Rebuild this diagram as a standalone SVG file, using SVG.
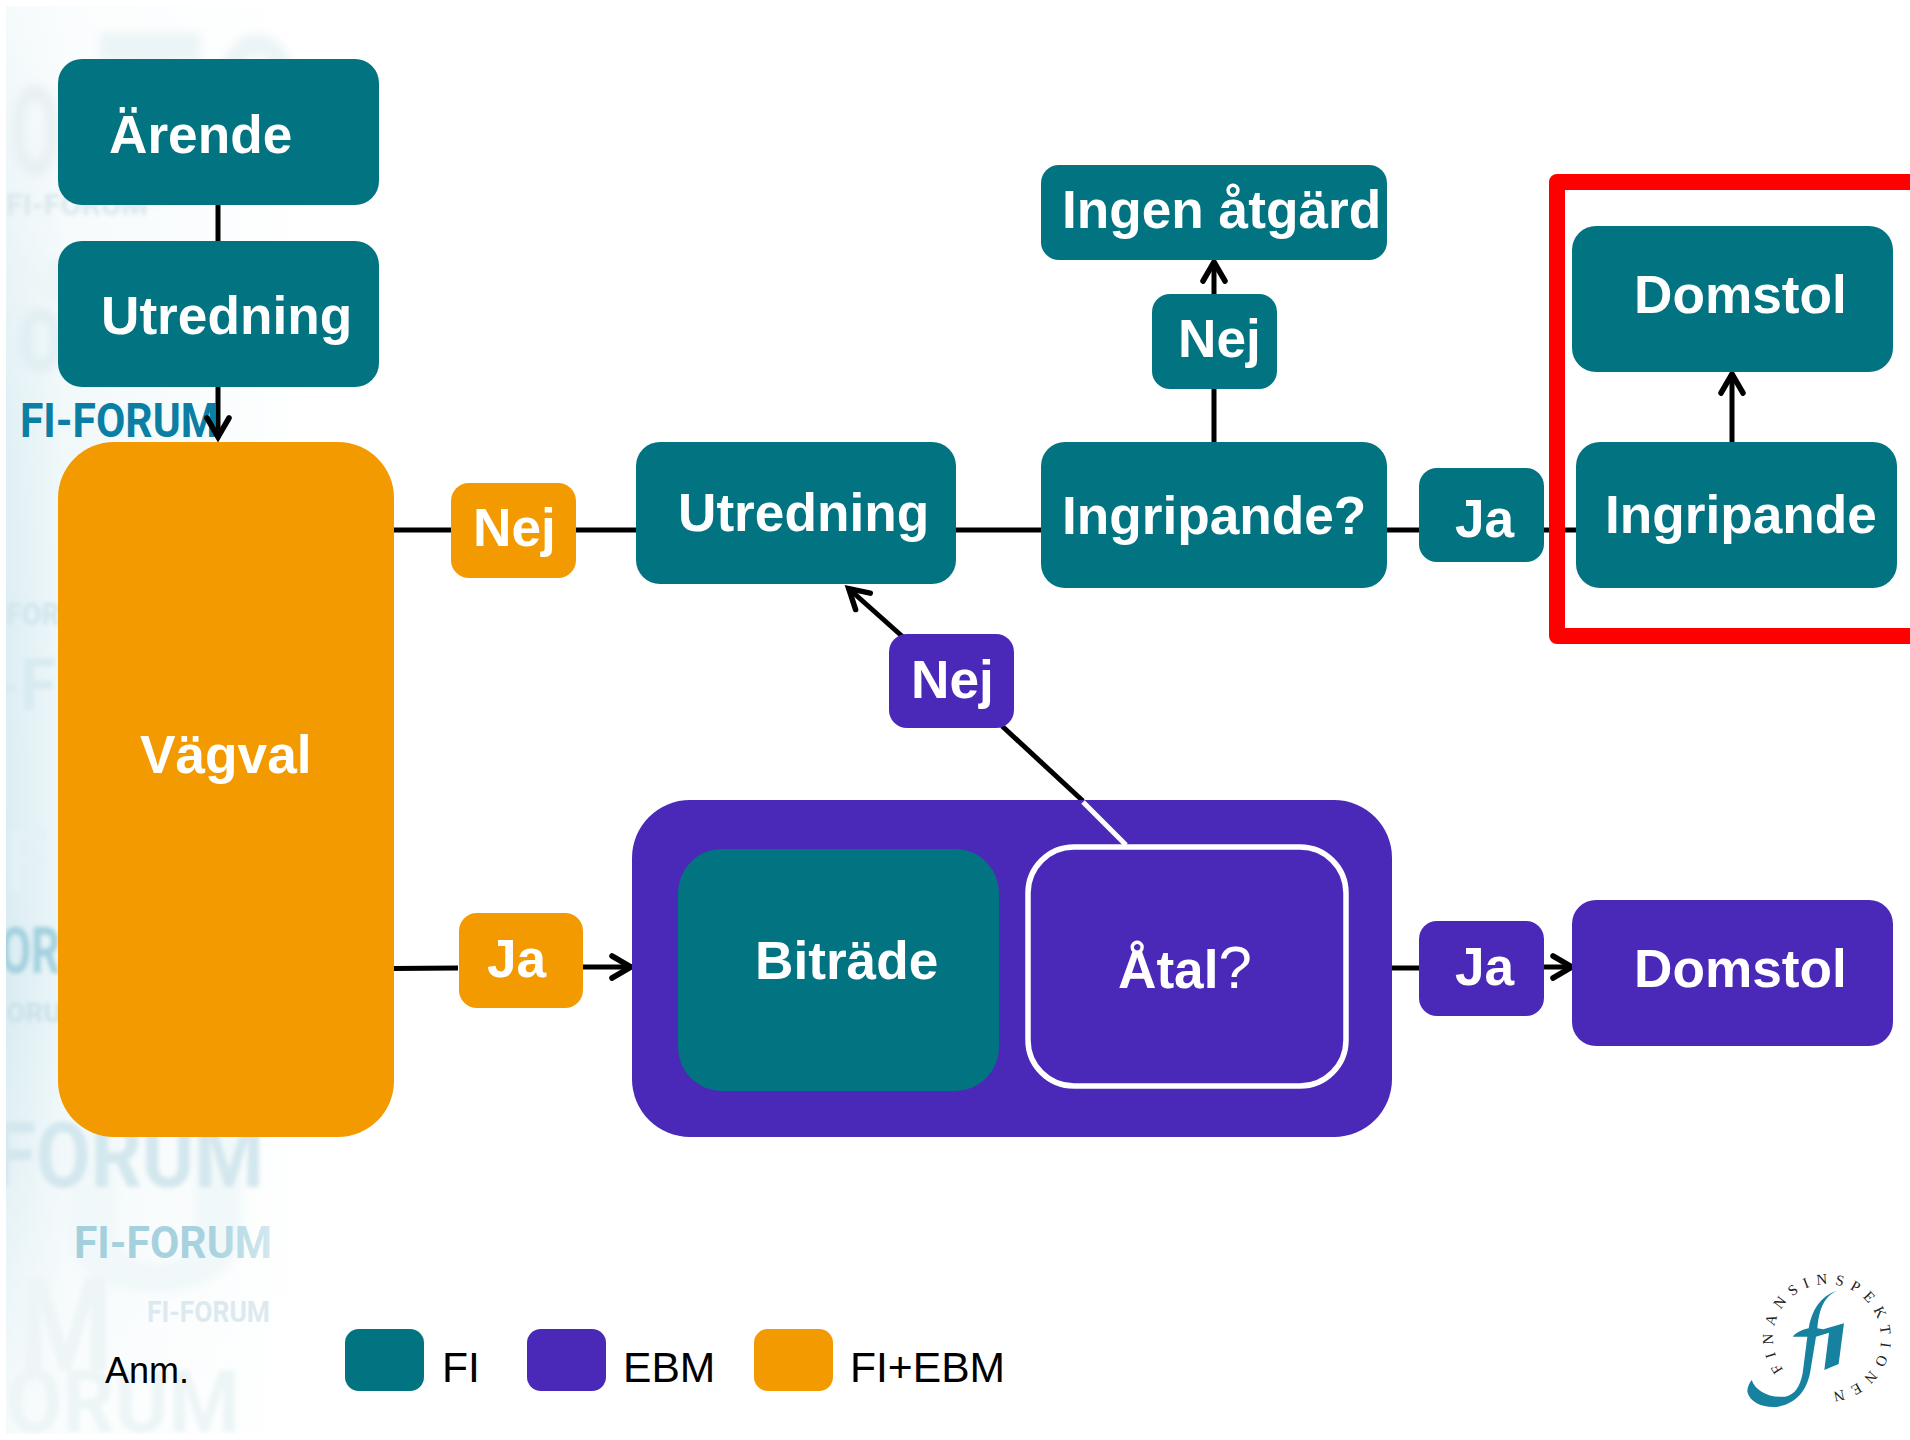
<svg xmlns="http://www.w3.org/2000/svg" width="1910" height="1440" viewBox="0 0 1910 1440">
<style>
.teal{fill:#027381}.purple{fill:#4a29b8}.orange{fill:#f39a00}
.lbl{font-family:"Liberation Sans",Arial,sans-serif;font-weight:700;font-size:53.2px;fill:#fff}
.reg{font-family:"Liberation Sans",Arial,sans-serif;font-size:42.6px;fill:#000}
.wm{font-family:Roboto,"Liberation Sans",sans-serif;font-weight:700}
.c{stroke:#000;stroke-width:5;fill:none}
</style>
<defs>
<marker id="arrow" markerUnits="userSpaceOnUse" markerWidth="34" markerHeight="34" refX="26" refY="15" orient="auto" viewBox="0 0 34 34">
<path d="M6,4 L25,15 L6,26" fill="none" stroke="#000" stroke-width="5.5" stroke-linecap="round" stroke-linejoin="miter"/>
</marker>
<clipPath id="wmclip"><rect x="6" y="6" width="300" height="1428"/></clipPath>
<linearGradient id="bgh" x1="0" x2="1" y1="0" y2="0"><stop offset="0" stop-color="#d9ecf2"/><stop offset="0.2" stop-color="#eef7f9"/><stop offset="1" stop-color="#fff"/></linearGradient>
<linearGradient id="fadev" x1="0" x2="0" y1="0" y2="1"><stop offset="0" stop-color="#fff" stop-opacity=".75"/><stop offset=".3" stop-color="#fff" stop-opacity=".2"/><stop offset=".7" stop-color="#fff" stop-opacity="0"/><stop offset="1" stop-color="#fff" stop-opacity=".75"/></linearGradient>
<linearGradient id="fadeh" x1="0" x2="1" y1="0" y2="0"><stop offset="0" stop-color="#a3cfdd"/><stop offset=".7" stop-color="#a8d2df"/><stop offset="1" stop-color="#d5e9ef"/></linearGradient>
<filter id="b2" x="-20%" y="-20%" width="140%" height="140%"><feGaussianBlur stdDeviation="2"/></filter>
<filter id="b5" x="-20%" y="-20%" width="140%" height="140%"><feGaussianBlur stdDeviation="5"/></filter>
<path id="logoarc" d="M1783.3,1369.7 A54,54 0 1 1 1827,1392"/>
</defs>
<rect width="1910" height="1440" fill="#fff"/>
<g id="background" clip-path="url(#wmclip)">
<rect x="6" y="6" width="300" height="1428" fill="url(#bgh)"/>
<rect x="6" y="6" width="300" height="1428" fill="url(#fadev)"/>
<g filter="url(#b5)" fill="#ebf4f6">
<rect x="100" y="33" width="100" height="28"/><rect x="135" y="33" width="32" height="170"/>
<text class="wm" x="212" y="170" font-size="190" textLength="90" lengthAdjust="spacingAndGlyphs">O</text>
<text class="wm" x="10" y="175" font-size="125" textLength="50" lengthAdjust="spacingAndGlyphs" fill="#e6eff2">O</text>
<text class="wm" x="6" y="300" font-size="60" textLength="60" lengthAdjust="spacingAndGlyphs">N</text>
<text class="wm" x="18" y="370" font-size="85" textLength="45" lengthAdjust="spacingAndGlyphs" fill="#deecf1">O</text>
<text class="wm" x="50" y="1290" font-size="260" textLength="210" lengthAdjust="spacingAndGlyphs" fill="#f1f8f9">U</text>
</g>
<g filter="url(#b2)">
<text class="wm" x="6" y="215" font-size="30" textLength="142" lengthAdjust="spacingAndGlyphs" fill="#d8e7ec">FI-FORUM</text>
<text class="wm" x="6" y="625" font-size="32" textLength="54" lengthAdjust="spacingAndGlyphs" fill="#cfe5ec">FOR</text>
<text class="wm" x="-6" y="710" font-size="72" textLength="62" lengthAdjust="spacingAndGlyphs" fill="#d8ebf0">-F</text>
<text class="wm" x="6" y="892" font-size="88" textLength="42" lengthAdjust="spacingAndGlyphs" fill="#e4f1f5">F</text>
<text class="wm" x="6" y="1022" font-size="26" textLength="56" lengthAdjust="spacingAndGlyphs" fill="#c8e0e8">ORU</text>
<text class="wm" x="-8" y="1187" font-size="90" textLength="272" lengthAdjust="spacingAndGlyphs" fill="#d3e7ee">FORUM</text>
<text class="wm" x="18" y="1370" font-size="130" textLength="95" lengthAdjust="spacingAndGlyphs" fill="#edf5f7">M</text>
<text class="wm" x="6" y="1432" font-size="88" textLength="234" lengthAdjust="spacingAndGlyphs" fill="#edf5f7">ORUM</text>
</g>
<text class="wm" x="0" y="973" font-size="64" textLength="60" lengthAdjust="spacingAndGlyphs" fill="#a3d0de" filter="url(#b2)">OR</text>
<text class="wm" x="20" y="437" font-size="49" textLength="198" lengthAdjust="spacingAndGlyphs" fill="#0a7fa3">FI-FORUM</text>
<text class="wm" x="74" y="1258" font-size="45" textLength="198" lengthAdjust="spacingAndGlyphs" fill="url(#fadeh)">FI-FORUM</text>
<text class="wm" x="147" y="1322" font-size="29" textLength="123" lengthAdjust="spacingAndGlyphs" fill="#dceaf0">FI-FORUM</text>
</g>
<g id="connectors">
<path class="c" d="M218,205V241"/>
<path class="c" d="M218,386V438" marker-end="url(#arrow)"/>
<path class="c" d="M394,530H636"/>
<path class="c" d="M956,530H1041"/>
<path class="c" d="M1387,530H1576"/>
<path class="c" d="M1214,442V261" marker-end="url(#arrow)"/>
<path class="c" d="M1732,442V373" marker-end="url(#arrow)"/>
<path class="c" d="M394,968.5L458,968"/>
<path class="c" d="M583,967H632" marker-end="url(#arrow)"/>
<path class="c" d="M1392,968H1419"/>
<path class="c" d="M1544,967H1573" marker-end="url(#arrow)"/>
<path class="c" d="M1083,801L1002,726"/>
<path class="c" d="M903,637L848,588" marker-end="url(#arrow)"/>
</g>
<g id="redframe"><path d="M1920,182H1557V636H1920" fill="none" stroke="#f00" stroke-width="16" stroke-linejoin="round"/></g>
<g id="n-arende"><rect class="teal" x="58" y="59" width="321" height="146" rx="24"/><text class="lbl" x="109" y="153">Ärende</text></g>
<g id="n-utredning1"><rect class="teal" x="58" y="241" width="321" height="146" rx="24"/><text class="lbl" x="101" y="334">Utredning</text></g>
<g id="n-vagval"><rect class="orange" x="58" y="442" width="336" height="695" rx="56"/><text class="lbl" x="140" y="773">Vägval</text></g>
<g id="n-nej1"><rect class="orange" x="451" y="483" width="125" height="95" rx="18"/><text class="lbl" x="473" y="546">Nej</text></g>
<g id="n-utredning2"><rect class="teal" x="636" y="442" width="320" height="142" rx="24"/><text class="lbl" x="678" y="531">Utredning</text></g>
<g id="n-ingripandeq"><rect class="teal" x="1041" y="442" width="346" height="146" rx="24"/><text class="lbl" x="1062" y="534">Ingripande?</text></g>
<g id="n-ingen"><rect class="teal" x="1041" y="165" width="346" height="95" rx="18"/><text class="lbl" x="1062" y="228">Ingen åtgärd</text></g>
<g id="n-nej2"><rect class="teal" x="1152" y="294" width="125" height="95" rx="18"/><text class="lbl" x="1178" y="357">Nej</text></g>
<g id="n-ja1"><rect class="teal" x="1419" y="468" width="125" height="94" rx="18"/><text class="lbl" x="1455" y="537">Ja</text></g>
<g id="n-ingripande"><rect class="teal" x="1576" y="442" width="321" height="146" rx="24"/><text class="lbl" x="1605" y="533">Ingripande</text></g>
<g id="n-domstol1"><rect class="teal" x="1572" y="226" width="321" height="146" rx="24"/><text class="lbl" x="1634" y="313">Domstol</text></g>
<g id="n-nej3"><rect class="purple" x="889" y="634" width="125" height="94" rx="18"/><text class="lbl" x="911" y="698">Nej</text></g>
<g id="n-ja2"><rect class="orange" x="459" y="913" width="124" height="95" rx="18"/><text class="lbl" x="487" y="977">Ja</text></g>
<g id="n-ebm"><rect class="purple" x="632" y="800" width="760" height="337" rx="58"/>
<path d="M1083,802L1126,845" stroke="#fff" stroke-width="5" fill="none"/></g>
<g id="n-bitrade"><rect class="teal" x="678" y="849" width="321" height="242" rx="44"/><text class="lbl" x="755" y="979">Biträde</text></g>
<g id="n-atal"><rect x="1028" y="847" width="318" height="239" rx="46" fill="#4a29b8" stroke="#fff" stroke-width="5.5"/><text class="lbl" x="1118" y="988">Åtal<tspan font-weight="400" font-size="60">?</tspan></text></g>
<g id="n-ja3"><rect class="purple" x="1419" y="921" width="125" height="95" rx="18"/><text class="lbl" x="1455" y="985">Ja</text></g>
<g id="n-domstol2"><rect class="purple" x="1572" y="900" width="321" height="146" rx="24"/><text class="lbl" x="1634" y="987">Domstol</text></g>
<g id="legend">
<text x="105" y="1383" font-family="Liberation Sans, Arial, sans-serif" font-size="36" fill="#000">Anm.</text>
<rect class="teal" x="345" y="1329" width="79" height="62" rx="14"/><text class="reg" x="442" y="1382">FI</text>
<rect class="purple" x="527" y="1329" width="79" height="62" rx="14"/><text class="reg" x="623" y="1382">EBM</text>
<rect class="orange" x="754" y="1329" width="79" height="62" rx="14"/><text class="reg" x="850" y="1382">FI+EBM</text>
</g>
<g id="logo">
<path transform="translate(1710,1240) scale(.3333)" fill="#16829f" d="M380,152 C345,170 328,200 322,265 L340,268 L402,250 L386,372 L343,390 L357,278 L318,290 L300,400 C290,450 260,490 205,500 C165,505 120,490 112,455 C112,440 118,430 125,420 C135,450 175,475 225,470 C255,465 270,440 278,400 L292,290 L248,290 C262,275 280,268 296,265 C305,210 330,170 380,152 Z"/>
<text font-family="Liberation Serif, serif" font-size="15" fill="#222"><textPath href="#logoarc" textLength="282" lengthAdjust="spacing">FINANSINSPEKTIONEN</textPath></text>
</g>
</svg>
